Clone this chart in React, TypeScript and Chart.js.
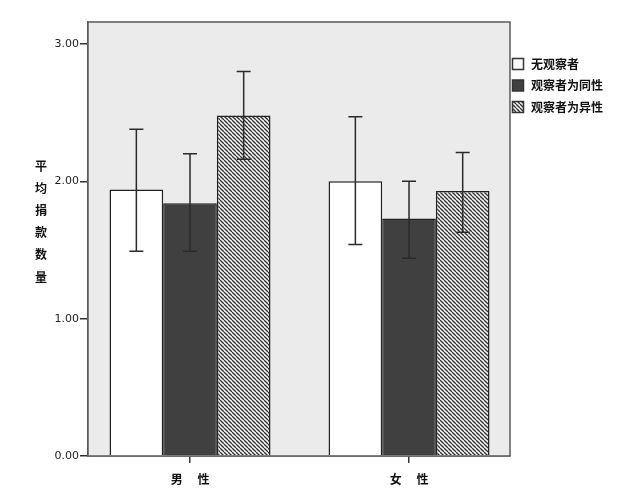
import React, { useEffect, useRef } from 'react';
import { Chart, registerables } from 'chart.js';
Chart.register(...registerables);

const genders = ['男　 性', '女　 性'];
const seriesNames = ['无观察者', '观察者为同性', '观察者为异性'];
const meanNone = [1.94, 2.0];
const meanSame = [1.84, 1.73];
const meanOther = [2.48, 1.93];
const lowNone = [1.49, 1.54];
const highNone = [2.38, 2.47];
const lowSame = [1.49, 1.44];
const highSame = [2.2, 2.0];
const lowOther = [2.16, 1.63];
const highOther = [2.8, 2.21];
const yTicks = [0, 1, 2, 3];
const yTitle = ['平', '均', '捐', '款', '数', '量'];

const CJK = "'Noto Sans CJK SC', 'Noto Sans', sans-serif";

function makeHatch(): CanvasPattern {
  const c = document.createElement('canvas');
  c.width = 4;
  c.height = 4;
  const g = c.getContext('2d')!;
  g.fillStyle = '#f4f4f4';
  g.fillRect(0, 0, 4, 4);
  g.strokeStyle = '#333333';
  g.lineWidth = 1.3;
  for (const o of [-4, 0, 4]) {
    g.beginPath();
    g.moveTo(o, 0);
    g.lineTo(o + 4, 4);
    g.stroke();
  }
  return g.createPattern(c, 'repeat')!;
}

export default function App() {
  const ref = useRef<HTMLCanvasElement>(null);
  useEffect(() => {
    if (!ref.current) return;
    const hatch = makeHatch();
    const fills: (string | CanvasPattern)[] = ['#ffffff', '#404040', hatch];
    const lows = [lowNone, lowSame, lowOther];
    const highs = [highNone, highSame, highOther];
    const means = [meanNone, meanSame, meanOther];

    const plugin = {
      id: 'decor',
      beforeDatasetsDraw(chart: any) {
        const { ctx, chartArea: a } = chart;
        ctx.save();
        ctx.fillStyle = '#ebebeb';
        ctx.fillRect(a.left, a.top, a.right - a.left, a.bottom - a.top);
        ctx.restore();
      },
      afterDatasetsDraw(chart: any) {
        const { ctx, chartArea: a } = chart;
        const ys = chart.scales.y;
        ctx.save();
        ctx.strokeStyle = '#2a2a2a';
        ctx.lineWidth = 1.5;
        chart.data.datasets.forEach((_: any, di: number) => {
          const meta = chart.getDatasetMeta(di);
          meta.data.forEach((el: any, i: number) => {
            const x = el.x;
            const yh = ys.getPixelForValue(highs[di][i]);
            const yl = ys.getPixelForValue(lows[di][i]);
            ctx.beginPath();
            ctx.moveTo(x, yh);
            ctx.lineTo(x, yl);
            ctx.moveTo(x - 7, yh);
            ctx.lineTo(x + 7, yh);
            ctx.moveTo(x - 7, yl);
            ctx.lineTo(x + 7, yl);
            ctx.stroke();
          });
        });
        ctx.strokeStyle = '#5a5a5a';
        ctx.lineWidth = 1.5;
        ctx.strokeRect(a.left, a.top, a.right - a.left, a.bottom - a.top);
        ctx.restore();
      },
      afterDraw(chart: any) {
        const { ctx, chartArea: a } = chart;
        ctx.save();
        ctx.font = `bold 12px ${CJK}`;
        ctx.textBaseline = 'middle';
        ctx.textAlign = 'left';
        seriesNames.forEach((name, i) => {
          const cy = a.top + 42 + i * 21.5;
          const bx = a.right + 2.5;
          ctx.fillStyle = fills[i] as any;
          ctx.fillRect(bx, cy - 5.5, 11, 11);
          ctx.strokeStyle = '#333333';
          ctx.lineWidth = 1.5;
          ctx.strokeRect(bx, cy - 5.5, 11, 11);
          ctx.fillStyle = '#111111';
          ctx.fillText(name, a.right + 21, cy);
        });
        ctx.textAlign = 'center';
        yTitle.forEach((ch, i) => {
          ctx.fillText(ch, a.left - 47, a.top + 144 + i * 22.2);
        });
        ctx.restore();
      },
    };

    const chart = new Chart(ref.current, {
      type: 'bar',
      data: {
        datasets: seriesNames.map((name, di) => ({
          label: name,
          data: genders.map((_, i) => ({ x: i, y: means[di][i] })),
          backgroundColor: fills[di] as any,
          borderColor: '#222222',
          borderWidth: 1.5,
          categoryPercentage: 0.735,
          barPercentage: 1,
        })),
      },
      options: {
        responsive: false,
        animation: false,
        layout: { padding: { top: 22, right: 114, left: 0, bottom: 0 } },
        plugins: { legend: { display: false }, tooltip: { enabled: false } },
        scales: {
          x: {
            type: 'linear',
            offset: false,
            min: -0.4658,
            max: 1.461,
            afterBuildTicks: (s: any) => {
              s.ticks = genders.map((_, i) => ({ value: i }));
            },
            afterFit: (s: any) => {
              s.height = 48;
            },
            grid: {
              offset: false,
              drawOnChartArea: false,
              tickLength: 7,
              color: '#333333',
              lineWidth: 1.5,
            },
            border: { display: true, color: '#5a5a5a', width: 1.5 },
            ticks: {
              padding: 9,
              maxRotation: 0,
              autoSkip: false,
              color: '#111111',
              font: { family: CJK, size: 12, weight: 'bold' },
              callback: (v: any) => genders[Math.round(Number(v))] ?? '',
            },
          },
          y: {
            min: 0,
            max: 3.16,
            afterBuildTicks: (s: any) => {
              s.ticks = yTicks.map((v) => ({ value: v }));
            },
            afterFit: (s: any) => {
              s.width = 88;
            },
            grid: {
              drawOnChartArea: false,
              tickLength: 8,
              color: '#333333',
              lineWidth: 1.5,
            },
            border: { display: true, color: '#5a5a5a', width: 1.5 },
            ticks: {
              padding: 1,
              color: '#222222',
              font: { family: "'DejaVu Sans', sans-serif", size: 11 },
              callback: (v: any) => Number(v).toFixed(2),
            },
          },
        },
      },
      plugins: [plugin],
    });
    return () => chart.destroy();
  }, []);

  return (
    <div style={{ position: 'absolute', left: 0, top: 0, width: 624, height: 504, background: '#fff' }}>
      <canvas ref={ref} width={624} height={504} />
    </div>
  );
}
